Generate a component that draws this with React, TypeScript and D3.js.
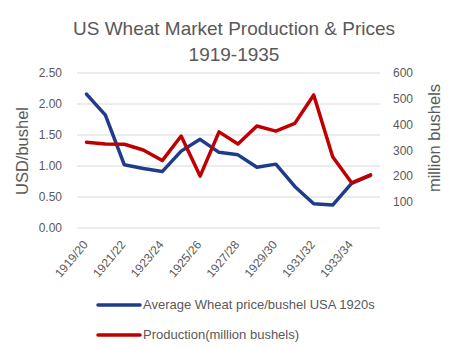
import React from "react";
import * as d3 from "d3";

const categories = [
  "1919/20", "1920/21", "1921/22", "1922/23", "1923/24", "1924/25", "1925/26", "1926/27",
  "1927/28", "1928/29", "1929/30", "1930/31", "1931/32", "1932/33", "1933/34", "1934/35",
];
const priceValues = [2.16, 1.82, 1.02, 0.96, 0.91, 1.24, 1.43, 1.22, 1.18, 0.98, 1.03, 0.67, 0.39, 0.37, 0.72, 0.85];
const productionValues = [332, 325, 324, 302, 261, 356, 201, 372, 325, 395, 375, 405, 515, 276, 175, 206];
const leftTicks = [0, 0.5, 1, 1.5, 2, 2.5];
const rightTicks = [100, 200, 300, 400, 500, 600];
const labelEvery = 2;

const W = 450, H = 348;
const plot = { left: 77, right: 380, top: 73, bottom: 228 };
const BLUE = "#1f3c88";
const RED = "#c00000";
const TXT = "#595959";
const FONT = "'Liberation Sans', Arial, sans-serif";

export default function App() {
  const x = d3.scaleBand().domain(categories).range([plot.left, plot.right]);
  const yL = d3.scaleLinear().domain([0, 2.5]).range([plot.bottom, plot.top]);
  const yR = d3.scaleLinear().domain([0, 600]).range([plot.bottom, plot.top]);
  const cx = (c: string) => (x(c) as number) + x.bandwidth() / 2;
  const priceLine = d3.line<number>().x((_, i) => cx(categories[i])).y((d) => yL(d));
  const prodLine = d3.line<number>().x((_, i) => cx(categories[i])).y((d) => yR(d));

  return (
    <svg width={W} height={H} style={{ position: "absolute", left: 0, top: 0, background: "#fff" }} fontFamily={FONT}>
      <rect width={W} height={H} fill="#fff" />
      <text x={234} y={35} textAnchor="middle" fontSize={19} fill={TXT}>US Wheat Market Production &amp; Prices</text>
      <text x={234} y={61} textAnchor="middle" fontSize={19} fill={TXT}>1919-1935</text>

      {leftTicks.map((t) => (
        <g key={"g" + t}>
          <line x1={plot.left} x2={plot.right} y1={yL(t)} y2={yL(t)} stroke="#d9d9d9" strokeWidth={1} />
          <text x={62} y={yL(t) + 4} textAnchor="end" fontSize={12} fill={TXT}>{t.toFixed(2)}</text>
        </g>
      ))}
      {rightTicks.map((t) => (
        <text key={"r" + t} x={393} y={yR(t) + 4} textAnchor="start" fontSize={12} fill={TXT}>{t}</text>
      ))}

      <text transform={`translate(28,151) rotate(-90)`} textAnchor="middle" fontSize={16.5} fill={TXT}>USD/bushel</text>
      <text transform={`translate(440,138) rotate(-90)`} textAnchor="middle" fontSize={16.5} fill={TXT}>million bushels</text>

      {categories.map((c, i) =>
        i % labelEvery === 0 ? (
          <text key={c} transform={`translate(${cx(c) + 2},${plot.bottom + 17}) rotate(-50)`} textAnchor="end" fontSize={12} fill={TXT}>
            {c}
          </text>
        ) : null
      )}

      <path d={priceLine(priceValues) || ""} fill="none" stroke={BLUE} strokeWidth={3.5} strokeLinejoin="round" strokeLinecap="round" />
      <path d={prodLine(productionValues) || ""} fill="none" stroke={RED} strokeWidth={3.5} strokeLinejoin="round" strokeLinecap="round" />

      <line x1={98} x2={140} y1={305} y2={305} stroke={BLUE} strokeWidth={3.5} strokeLinecap="round" />
      <text x={143} y={309} fontSize={13} fill={TXT}>Average Wheat price/bushel USA 1920s</text>
      <line x1={98} x2={140} y1={335} y2={335} stroke={RED} strokeWidth={3.5} strokeLinecap="round" />
      <text x={143} y={339} fontSize={13} fill={TXT}>Production(million bushels)</text>
    </svg>
  );
}
